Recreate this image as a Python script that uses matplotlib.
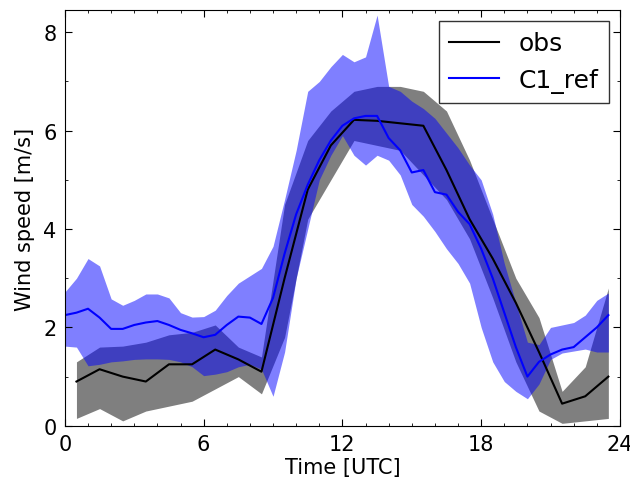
import numpy as np
import matplotlib
matplotlib.use("Agg")
import matplotlib.pyplot as plt
from matplotlib.ticker import MultipleLocator

# observations, hourly (half past the hour)
obs_time = [0.5, 1.5, 2.5, 3.5, 4.5, 5.5, 6.5, 7.5, 8.5, 9.5, 10.5, 11.5,
            12.5, 13.5, 14.5, 15.5, 16.5, 17.5, 18.5, 19.5, 20.5, 21.5, 22.5, 23.5]
obs_mean = [0.9, 1.15, 1.0, 0.9, 1.25, 1.25, 1.55, 1.35, 1.1, 3.0, 4.8, 5.7,
            6.22, 6.2, 6.15, 6.1, 5.2, 4.2, 3.4, 2.5, 1.5, 0.45, 0.6, 1.0]
obs_low = [0.15, 0.35, 0.1, 0.3, 0.4, 0.5, 0.75, 1.0, 0.65, 1.8, 4.2, 5.0,
           5.8, 5.7, 5.6, 5.1, 4.6, 3.8, 2.6, 1.3, 0.3, 0.05, 0.1, 0.15]
obs_high = [1.3, 1.6, 1.62, 1.7, 1.85, 1.9, 2.05, 1.6, 1.4, 4.5, 5.8, 6.4,
            6.8, 6.9, 6.9, 6.8, 6.4, 5.4, 4.2, 3.0, 2.2, 0.7, 1.2, 2.8]

# C1_ref simulation, every 30 min
mod_time = [0.0, 0.5, 1.0, 1.5, 2.0, 2.5, 3.0, 3.5, 4.0, 4.5, 5.0, 5.5,
            6.0, 6.5, 7.0, 7.5, 8.0, 8.5, 9.0, 9.5, 10.0, 10.5, 11.0, 11.5,
            12.0, 12.5, 13.0, 13.5, 14.0, 14.5, 15.0, 15.5, 16.0, 16.5, 17.0, 17.5,
            18.0, 18.5, 19.0, 19.5, 20.0, 20.5, 21.0, 21.5, 22.0, 22.5, 23.0, 23.5]
mod_mean = [2.25, 2.3, 2.38, 2.2, 1.97, 1.97, 2.05, 2.1, 2.13, 2.05, 1.95, 1.88,
            1.8, 1.85, 2.05, 2.22, 2.2, 2.07, 2.6, 3.5, 4.3, 4.9, 5.4, 5.8,
            6.1, 6.25, 6.3, 6.3, 5.85, 5.6, 5.15, 5.2, 4.75, 4.7, 4.35, 4.1,
            3.6, 3.0, 2.3, 1.6, 1.0, 1.3, 1.45, 1.55, 1.6, 1.8, 2.0, 2.25]
mod_low = [1.62, 1.6, 1.22, 1.25, 1.3, 1.32, 1.35, 1.36, 1.36, 1.35, 1.3, 1.2,
           1.02, 1.05, 1.1, 1.2, 1.25, 1.15, 0.6, 1.5, 3.0, 4.0, 5.0, 5.5,
           5.9, 5.5, 5.3, 5.5, 5.4, 5.1, 4.5, 4.26, 3.95, 3.6, 3.3, 2.9,
           2.0, 1.3, 0.9, 0.7, 0.55, 0.85, 1.35, 1.48, 1.52, 1.56, 1.5, 1.5]
mod_high = [2.72, 3.0, 3.4, 3.25, 2.58, 2.45, 2.55, 2.68, 2.68, 2.6, 2.3, 2.21,
            2.22, 2.35, 2.65, 2.9, 3.05, 3.2, 3.65, 4.6, 5.6, 6.8, 7.0, 7.3,
            7.55, 7.4, 7.5, 8.35, 6.9, 6.8, 6.6, 6.45, 6.25, 5.95, 5.65, 5.3,
            5.0, 4.3, 3.3, 2.5, 1.7, 1.65, 2.0, 2.05, 2.1, 2.25, 2.55, 2.7]

plt.rcParams["font.family"] = "DejaVu Sans"
plt.rcParams["xtick.direction"] = "in"
plt.rcParams["ytick.direction"] = "in"
plt.rcParams["xtick.top"] = True
plt.rcParams["ytick.right"] = True

fig = plt.figure(figsize=(6.3, 4.85), dpi=100)
ax = fig.add_axes([0.103, 0.12, 0.881, 0.857])

ax.fill_between(obs_time, obs_low, obs_high, color="k", alpha=0.5, linewidth=0)
ax.plot(obs_time, obs_mean, color="k", lw=1.5, label="obs")
ax.fill_between(mod_time, mod_low, mod_high, color="b", alpha=0.5, linewidth=0)
ax.plot(mod_time, mod_mean, color="b", lw=1.5, label="C1_ref")

ax.set_xlim(0, 24)
ax.set_ylim(0, 8.45)
ax.set_xticks([0, 6, 12, 18, 24])
ax.set_yticks([0, 2, 4, 6, 8])
ax.xaxis.set_minor_locator(MultipleLocator(1))
ax.yaxis.set_minor_locator(MultipleLocator(1))
ax.tick_params(which="major", length=5, labelsize=15, pad=6)
ax.tick_params(which="minor", length=2.5)
ax.set_xlabel("Time [UTC]", fontsize=15, labelpad=2)
ax.set_ylabel("Wind speed [m/s]", fontsize=15, labelpad=6)

leg = ax.legend(loc="upper right", fontsize=18, fancybox=False,
                edgecolor="k", borderpad=0.4, handlelength=2.0,
                handletextpad=0.8, borderaxespad=0.45)
leg.get_frame().set_linewidth(1.0)

fig.savefig("out.png", dpi=100)
